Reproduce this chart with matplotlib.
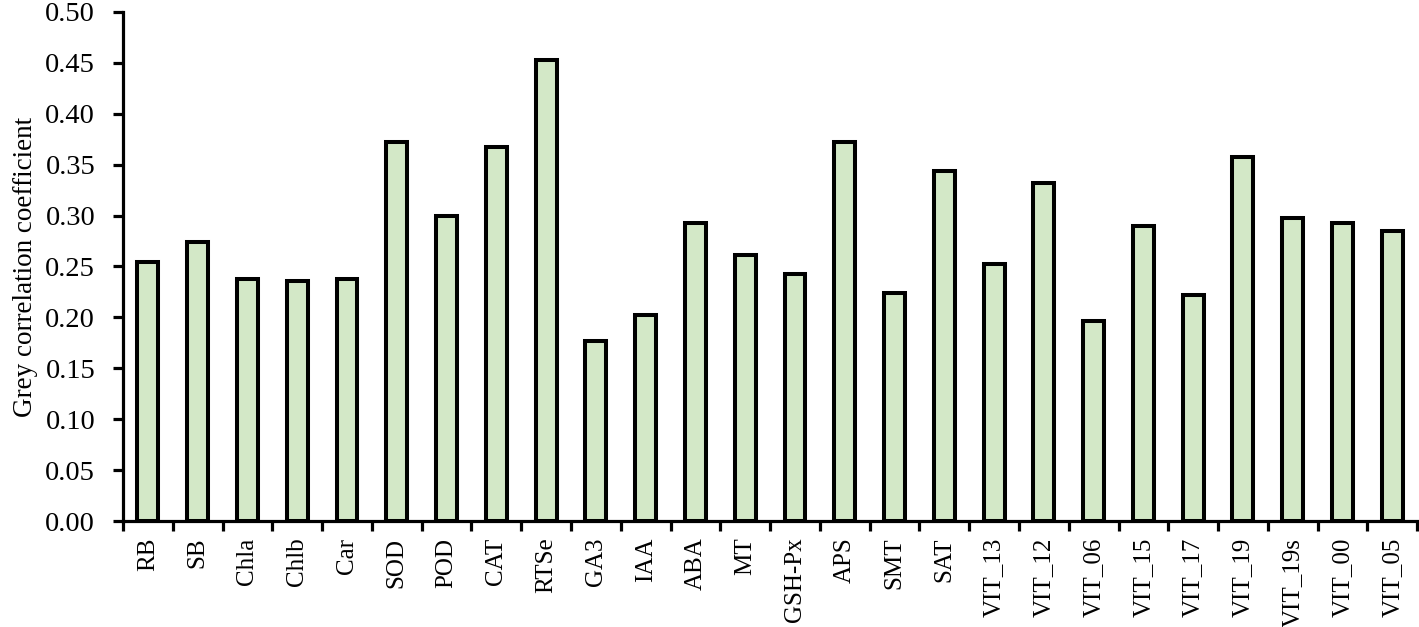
import matplotlib
matplotlib.use("Agg")
import matplotlib.pyplot as plt
import numpy as np

# --- DATA ---
CATS = ["RB", "SB", "Chla", "Chlb", "Car", "SOD", "POD", "CAT", "RTSe", "GA3",
        "IAA", "ABA", "MT", "GSH-Px", "APS", "SMT", "SAT", "VIT_13", "VIT_12",
        "VIT_06", "VIT_15", "VIT_17", "VIT_19", "VIT_19s", "VIT_00", "VIT_05"]
VALS = [0.254, 0.274, 0.238, 0.236, 0.238, 0.372, 0.300, 0.367, 0.453, 0.177,
        0.202, 0.293, 0.261, 0.243, 0.372, 0.224, 0.344, 0.252, 0.332,
        0.196, 0.290, 0.222, 0.358, 0.298, 0.293, 0.285]
YTICKS = [0.00, 0.05, 0.10, 0.15, 0.20, 0.25, 0.30, 0.35, 0.40, 0.45, 0.50]

# --- STYLE ---
FILL = "#d3e8c7"
LW_BAR = 2.9
LW_AX = 2.3
plt.rcParams["font.family"] = ["Liberation Serif", "DejaVu Serif"]

fig = plt.figure(figsize=(14.19, 6.27), dpi=100)
ax = fig.add_axes([0.0867, 0.169, 0.912, 0.812])

x = np.arange(len(CATS))
ax.bar(x, VALS, width=0.42, color=FILL, edgecolor="black", linewidth=LW_BAR, zorder=2)

ax.set_xlim(-0.5, len(CATS) - 0.5)
ax.set_ylim(0, 0.5)
ax.set_yticks(YTICKS)
ax.set_yticklabels([f"{t:.2f}" for t in YTICKS], fontsize=20.5)

# ticks at category boundaries, labels at centres
ax.set_xticks(np.arange(len(CATS) + 1) - 0.5)
ax.set_xticklabels([])
ax.set_xticks(x, minor=True)
ax.set_xticklabels(CATS, minor=True, rotation=90, fontsize=18)
ax.tick_params(axis="x", which="minor", length=0, pad=12)
ax.tick_params(axis="x", which="major", length=7, width=LW_AX, direction="out")
ax.tick_params(axis="y", length=7, width=LW_AX, direction="out", pad=13)

ax.set_ylabel("Grey correlation coefficient", fontsize=19.5, labelpad=5)
for s in ("top", "right"):
    ax.spines[s].set_visible(False)
for s in ("left", "bottom"):
    ax.spines[s].set_linewidth(LW_AX)

fig.savefig("out.png", dpi=100)
